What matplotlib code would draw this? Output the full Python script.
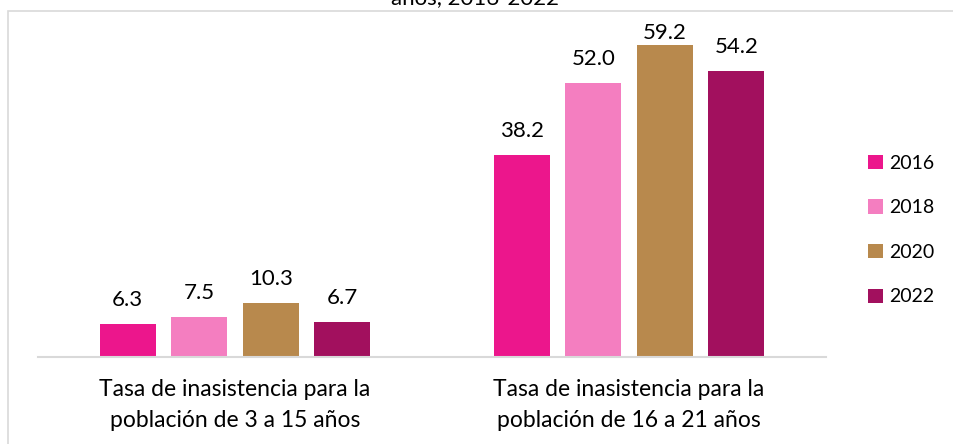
import matplotlib.pyplot as plt
from matplotlib.patches import Rectangle
import numpy as np

plt.rcParams['font.family'] = ['Lato', 'DejaVu Sans']

categories = ['Tasa de inasistencia para la\npoblación de 3 a 15 años',
              'Tasa de inasistencia para la\npoblación de 16 a 21 años']
years = ['2016', '2018', '2020', '2022']
v2016 = [6.3, 38.2]
v2018 = [7.5, 52.0]
v2020 = [10.3, 59.2]
v2022 = [6.7, 54.2]
colors = ['#EC168C', '#F47EC0', '#B8894D', '#A2105E']

W, H = 954, 444
fig = plt.figure(figsize=(W / 100, H / 100), dpi=100)

# outer frame (only left and top visible)
fig.patches.append(Rectangle((8 / W, -0.1), 1.2, 1 - 11 / H + 0.1, transform=fig.transFigure,
                             fill=False, edgecolor='#D9D9D9', linewidth=1.2))

# title, cut off at the top
fig.text(475 / W, 1 - 4 / H, 'años, 2016-2022', ha='center', va='baseline', fontsize=16)

ax = fig.add_axes([38 / W, 1 - 357 / H, (826 - 38) / W, (357 - 14) / H])
x = np.arange(len(categories))
width = 0.142
step = 0.1815
series = [v2016, v2018, v2020, v2022]
for i, (vals, yr, c) in enumerate(zip(series, years, colors)):
    pos = x + (i - 1.5) * step
    bars = ax.bar(pos, vals, width, color=c, label=yr)
    for b, v in zip(bars, vals):
        # labels near the top of the plot area get pushed down
        off = 4.3 if v > 57 else 13
        ax.annotate('%.1f' % v, (b.get_x() + b.get_width() / 2, v), xytext=(0, off),
                    textcoords='offset points', ha='center', va='baseline', fontsize=16)

ax.set_xlim(-0.5, 1.5)
ax.set_ylim(0, 65)
ax.set_yticks([])
ax.set_xticks(x)
ax.set_xticklabels(categories, fontsize=16.5, linespacing=1.55)
ax.tick_params(axis='x', length=0, pad=16)
for s in ['top', 'right', 'left']:
    ax.spines[s].set_visible(False)
ax.spines['bottom'].set_color('#D9D9D9')
ax.spines['bottom'].set_linewidth(1.5)

ax.legend(loc='center left', bbox_to_anchor=(868 / W, 1 - 230 / H), bbox_transform=fig.transFigure,
          frameon=False, fontsize=14, handlelength=0.75, handleheight=0.75, handletextpad=0.35,
          labelspacing=1.42, borderpad=0, borderaxespad=0)

fig.savefig('out.png', dpi=100)
